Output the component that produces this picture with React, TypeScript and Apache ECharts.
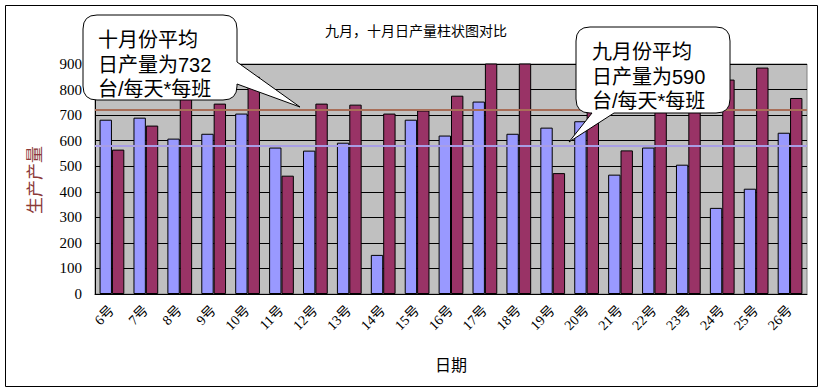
import React, { useEffect, useRef } from "react";
import * as echarts from "echarts";

const days = ["6号","7号","8号","9号","10号","11号","12号","13号","14号","15号","16号","17号","18号","19号","20号","21号","22号","23号","24号","25号","26号"];
const september = [682, 690, 608, 627, 706, 573, 561, 592, 153, 682, 620, 753, 627, 651, 676, 467, 573, 506, 337, 412, 631];
const october = [565, 659, 810, 745, 850, 463, 745, 741, 706, 718, 776, 910, 905, 473, 760, 562, 790, 780, 839, 886, 767];
const septemberAvgLine = 581;
const octoberAvgLine = 720;
const yTicks = { min: 0, max: 900, interval: 100 };
const title = "九月，十月日产量柱状图对比";
const leftNote = ["十月份平均", "日产量为732", "台/每天*每班"];
const rightNote = ["九月份平均", "日产量为590", "台/每天*每班"];

const leftPath = "M 97 15 L 223 15 Q 237 15 237 29 L 237 62 L 300 107 L 237 84 L 237 86 Q 237 100 223 100 L 97 100 Q 83 100 83 86 L 83 29 Q 83 15 97 15 Z";
const rightPath = "M 590 27 L 716 27 Q 730 27 730 41 L 730 99 Q 730 113 716 113 L 614 113 L 569 142 L 592 113 L 590 113 Q 576 113 576 99 L 576 41 Q 576 27 590 27 Z";

let registered = false;
function registerShapes() {
  if (registered) return;
  echarts.graphic.registerShape("calloutL", echarts.graphic.extendPath(leftPath, {}) as any);
  echarts.graphic.registerShape("calloutR", echarts.graphic.extendPath(rightPath, {}) as any);
  registered = true;
}

const noteFont = '20px "Liberation Sans", "Noto Sans CJK SC", sans-serif';

function noteTexts(lines: string[], x: number, ys: number[]) {
  return lines.map((t, i) => ({
    type: "text",
    z: 101,
    x,
    y: ys[i],
    style: { text: t, font: noteFont, fill: "#000", verticalAlign: "middle" },
  }));
}

export default function App() {
  const ref = useRef<HTMLDivElement>(null);
  useEffect(() => {
    registerShapes();
    const chart = echarts.init(ref.current!, null, { renderer: "svg" });
    const serif = '"Liberation Serif", "Noto Sans CJK SC", serif';
    chart.setOption({
      animation: false,
      backgroundColor: "#fff",
      title: {
        text: title,
        left: 411,
        top: 18,
        textAlign: "center",
        textStyle: { fontSize: 14, fontWeight: "normal", color: "#000", fontFamily: '"Noto Sans CJK SC", sans-serif' },
      },
      grid: {
        left: 95,
        right: 17,
        top: 64,
        bottom: 98,
        show: true,
        backgroundColor: "#C0C0C0",
        borderColor: "#808080",
        borderWidth: 1,
      },
      xAxis: {
        type: "category",
        data: days,
        name: "日期",
        nameLocation: "middle",
        nameGap: 63,
        nameTextStyle: { fontSize: 16, fontFamily: serif, color: "#000" },
        axisLine: { lineStyle: { color: "#000", width: 1 } },
        axisTick: { inside: true, length: 5, lineStyle: { color: "#000" } },
        axisLabel: { rotate: 45, fontSize: 14, fontFamily: serif, color: "#000", margin: 14 },
      },
      yAxis: {
        type: "value",
        min: yTicks.min,
        max: yTicks.max,
        interval: yTicks.interval,
        axisLine: { show: true, lineStyle: { color: "#000", width: 1 } },
        axisTick: { show: true, inside: true, length: 4, lineStyle: { color: "#000" } },
        axisLabel: { fontSize: 15, fontFamily: serif, color: "#000", margin: 13 },
        splitLine: { show: true, lineStyle: { color: "#000", width: 1 } },
      },
      series: [
        {
          type: "bar",
          name: "九月",
          data: september,
          clip: true,
          barGap: "0%",
          barCategoryGap: "27%",
          itemStyle: { color: "#9999FF", borderColor: "#000", borderWidth: 1 },
          markLine: {
            silent: true,
            symbol: "none",
            label: { show: false },
            lineStyle: { color: "#A89EE6", width: 2, type: "solid" },
            data: [{ yAxis: septemberAvgLine }],
          },
        },
        {
          type: "bar",
          name: "十月",
          data: october,
          clip: true,
          barGap: "0%",
          barCategoryGap: "27%",
          itemStyle: { color: "#993366", borderColor: "#000", borderWidth: 1 },
          markLine: {
            silent: true,
            symbol: "none",
            label: { show: false },
            lineStyle: { color: "#A86E58", width: 2, type: "solid" },
            data: [{ yAxis: octoberAvgLine }],
          },
        },
      ],
      graphic: [
        {
          type: "rect",
          z: 50,
          shape: { x: 5.5, y: 5.5, width: 812, height: 381 },
          style: { fill: "none", stroke: "#000", lineWidth: 1 },
        },
        {
          type: "text",
          z: 50,
          x: 33,
          y: 180,
          rotation: Math.PI / 2,
          style: { text: "生产产量", font: '17px "Noto Sans CJK SC", sans-serif', fill: "#8B3A3A", align: "center", verticalAlign: "middle" },
        },
        { type: "calloutL", z: 100, x: 0, y: 0, style: { fill: "#fff", stroke: "#000", lineWidth: 1 } },
        { type: "calloutR", z: 100, x: 0, y: 0, style: { fill: "#fff", stroke: "#000", lineWidth: 1 } },
        ...noteTexts(leftNote, 98, [40, 65, 89]),
        ...noteTexts(rightNote, 592, [52, 77, 101]),
      ],
    });
    return () => chart.dispose();
  }, []);
  return <div ref={ref} style={{ position: "fixed", left: 0, top: 0, width: 824, height: 392 }} />;
}
